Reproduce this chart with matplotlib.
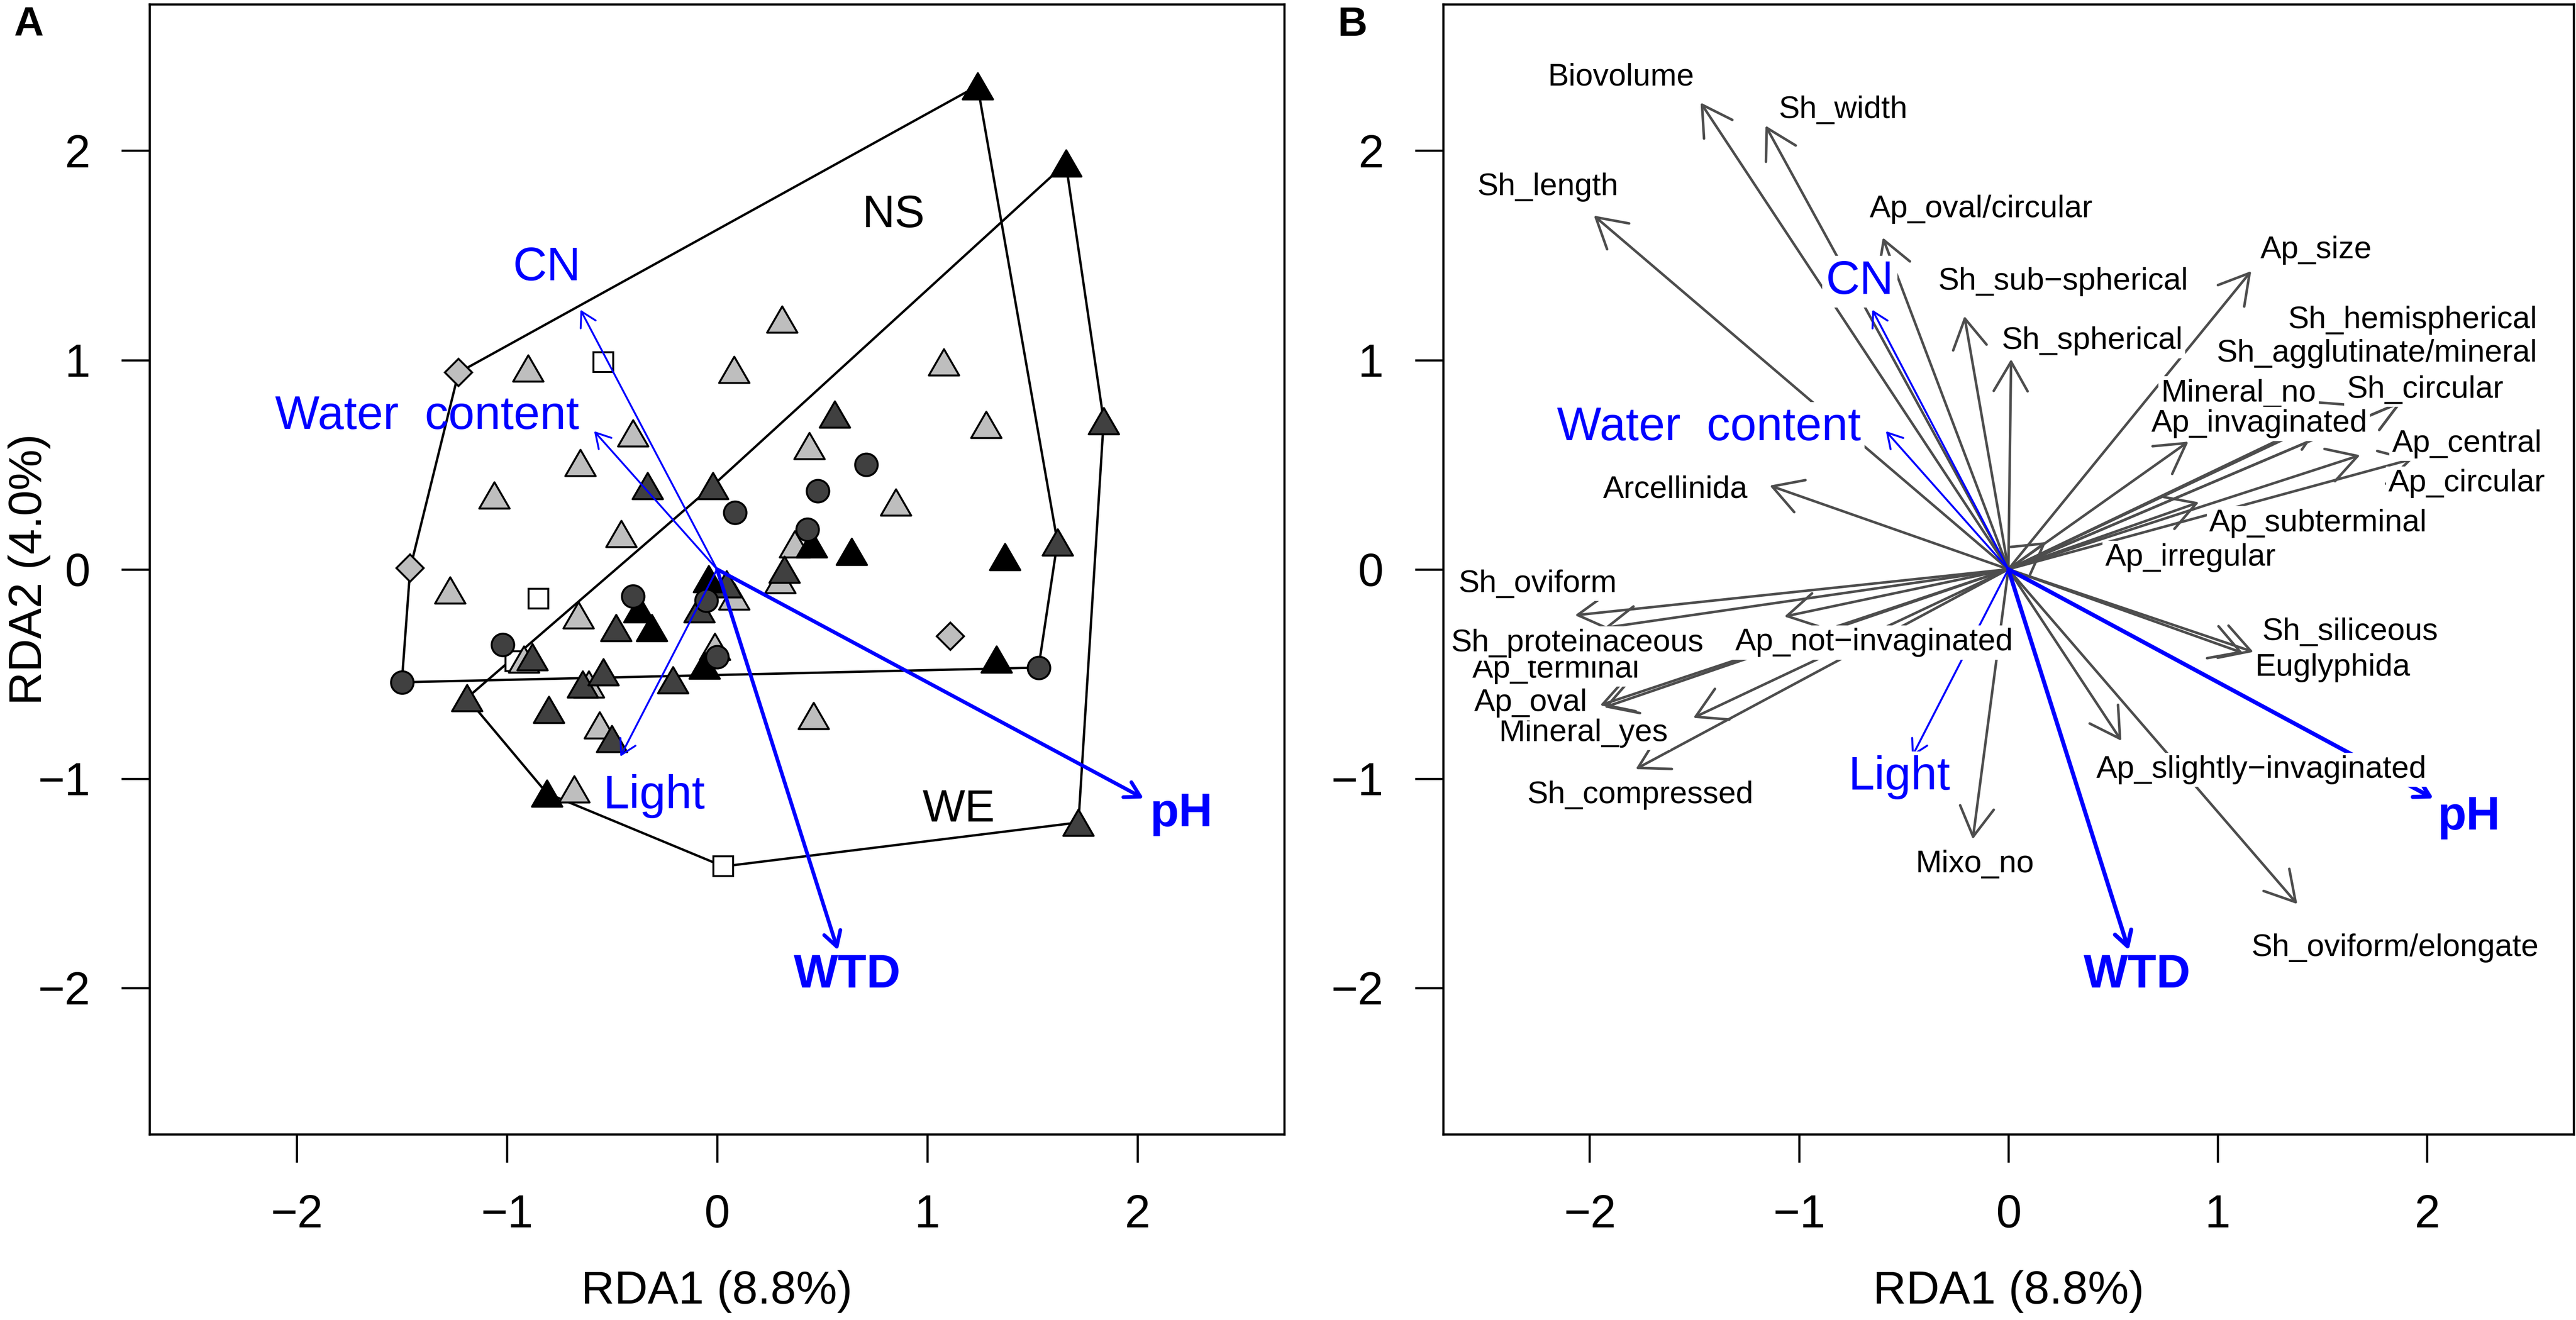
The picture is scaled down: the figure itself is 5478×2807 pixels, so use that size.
import matplotlib
matplotlib.use("Agg")
import matplotlib.pyplot as plt
from matplotlib.patches import ArrowStyle
from matplotlib.path import Path

plt.rcParams['font.family'] = ['Liberation Sans', 'DejaVu Sans']
plt.rcParams['axes.unicode_minus'] = True

# ---- panel A: site scores (RDA1, RDA2), one list pair per symbol group
lt_tri_x = [-0.90, 0.08, 0.31, 1.08, -0.40, 1.28, 0.44, -0.65, 0.85, -1.06, -0.455,
            0.37, 0.30, -1.27, 0.08, -0.66, -0.01, -0.92, -0.61, 0.46, -0.56, -0.68]
lt_tri_y = [0.96, 0.955, 1.195, 0.99, 0.65, 0.69, 0.59, 0.51, 0.32, 0.355, 0.17,
            0.12, -0.05, -0.10, -0.13, -0.22, -0.37, -0.43, -0.55, -0.70, -0.745, -1.05]

dk_tri_x = [0.56, 1.84, -0.33, -0.02, 1.62, 0.32, 0.045, -0.085, -0.48, -0.88, -1.19,
            -0.64, -0.54, -0.21, -0.80, -0.50, 1.72]
dk_tri_y = [0.74, 0.71, 0.40, 0.40, 0.13, 0.0, -0.07, -0.19, -0.28, -0.42, -0.615,
            -0.55, -0.49, -0.53, -0.67, -0.81, -1.21]

bk_tri_x = [1.24, 1.66, 0.45, 0.64, 1.37, -0.04, -0.37, -0.31, -0.06, 1.33, -0.81]
bk_tri_y = [2.31, 1.94, 0.12, 0.085, 0.06, -0.045, -0.19, -0.28, -0.46, -0.43, -1.07]

circ_x = [0.71, 0.48, 0.085, 0.43, -0.40, -0.05, -1.02, 0.0, -1.50, 1.53]
circ_y = [0.50, 0.375, 0.27, 0.19, -0.13, -0.15, -0.36, -0.42, -0.54, -0.47]

sq_x = [-0.54, -0.85, -0.96, 0.03]
sq_y = [0.99, -0.14, -0.44, -1.42]

dia_x = [-1.23, -1.46, 1.11]
dia_y = [0.94, 0.005, -0.32]

# convex hulls of the two groups
hull_ns_x = [-1.23, 1.24, 1.62, 1.53, -1.50, -1.46, -1.23]
hull_ns_y = [0.94, 2.31, 0.13, -0.47, -0.54, 0.005, 0.94]
hull_we_x = [-1.19, -0.02, 1.66, 1.84, 1.72, 0.03, -0.81, -1.19]
hull_we_y = [-0.615, 0.40, 1.94, 0.71, -1.21, -1.42, -1.07, -0.615]
hull_names = ['NS', 'WE']
hull_lab_x = [0.84, 1.15]
hull_lab_y = [1.69, -1.15]

# environmental vectors (same in both panels)
env_names = ['CN', 'Water  content', 'Light', 'pH', 'WTD']
env_x = [-0.65, -0.585, -0.46, 2.03, 0.575]
env_y = [1.24, 0.66, -0.895, -1.095, -1.82]
envA_lab_x = [-0.81, -1.38, -0.30, 2.21, 0.62]
envA_lab_y = [1.44, 0.73, -1.085, -1.17, -1.94]
envB_lab_x = [-0.71, -1.43, -0.52, 2.20, 0.615]
envB_lab_y = [1.375, 0.675, -0.995, -1.185, -1.94]

# ---- panel B: trait vectors
trait_names = ['Biovolume', 'Sh_width', 'Sh_length', 'Ap_oval/circular', 'Sh_sub\u2212spherical',
               'Sh_spherical', 'Ap_size', 'Sh_hemispherical', 'Sh_agglutinate/mineral',
               'Sh_circular', 'Mineral_no', 'Ap_invaginated', 'Ap_central', 'Ap_circular',
               'Ap_subterminal', 'Ap_irregular', 'Sh_siliceous', 'Euglyphida',
               'Ap_slightly\u2212invaginated', 'Sh_oviform/elongate', 'Mixo_no',
               'Sh_compressed', 'Mineral_yes', 'Ap_oval', 'Ap_terminal',
               'Ap_not\u2212invaginated', 'Sh_proteinaceous', 'Sh_oviform', 'Arcellinida']
trait_x = [-1.47, -1.16, -1.98, -0.60, -0.21, 0.013, 1.16, 1.88, 1.65, 1.88, 1.505, 0.86,
           1.68, 1.93, 0.91, 0.18, 1.17, 1.12, 0.54, 1.38, -0.17, -1.78, -1.505, -1.95,
           -1.93, -1.07, -1.93, -2.07, -1.14]
trait_y = [2.23, 2.12, 1.69, 1.585, 1.21, 1.004, 1.425, 0.80, 0.79, 0.80, 0.71, 0.61,
           0.545, 0.527, 0.32, 0.13, -0.395, -0.40, -0.82, -1.60, -1.29, -0.955, -0.71,
           -0.65, -0.66, -0.226, -0.28, -0.22, 0.40]
trait_lab_x = [-1.85, -0.79, -2.20, -0.13, 0.26, 0.40, 1.47, 1.93, 1.76, 1.99, 1.10, 1.20,
               2.19, 2.19, 1.48, 0.87, 1.63, 1.55, 1.21, 1.845, -0.16, -1.76, -2.03, -2.28,
               -2.16, -0.64, -2.06, -2.25, -1.59]
trait_lab_y = [2.35, 2.195, 1.825, 1.72, 1.375, 1.09, 1.525, 1.19, 1.03, 0.857, 0.84, 0.695,
               0.60, 0.41, 0.22, 0.055, -0.30, -0.47, -0.958, -1.81, -1.41, -1.08, -0.782,
               -0.64, -0.48, -0.35, -0.355, -0.07, 0.38]

tick_vals = [-2, -1, 0, 1, 2]

BLUE = '#0000FF'
GREY = '#4D4D4D'
tri = Path([(0, 0.866), (-1, -0.866), (1, -0.866), (0, 0.866)],
           [Path.MOVETO, Path.LINETO, Path.LINETO, Path.CLOSEPOLY])


def arrow(ax, x, y, color, lw, hl, z):
    ax.annotate('', xy=(x, y), xytext=(0, 0),
                arrowprops=dict(arrowstyle=ArrowStyle('->', head_length=hl, head_width=hl * 0.577),
                                mutation_scale=1, lw=lw, color=color,
                                shrinkA=0, shrinkB=0, capstyle='round', joinstyle='round'),
                zorder=z)


def style_axes(ax):
    ax.set_xlim(-2.7, 2.7)
    ax.set_ylim(-2.7, 2.7)
    ax.set_xticks(tick_vals)
    ax.set_yticks(tick_vals)
    ax.tick_params(direction='out', length=14.4, width=1.1, labelsize=23.5, pad=16)
    for s in ax.spines.values():
        s.set_linewidth(1.1)
    ax.text(0.5, -0.139, 'RDA1 (8.8%)', transform=ax.transAxes, ha='center', va='center',
            fontsize=23.5)


fig = plt.figure(figsize=(5478 / 300, 2807 / 300), dpi=300)
axA = fig.add_axes([0.0581, 0.1407, 0.4405, 0.8561])
axB = fig.add_axes([0.5602, 0.1407, 0.4389, 0.8561])

# ---------------- panel A
axA.plot(hull_ns_x, hull_ns_y, color='black', lw=1.2, zorder=2)
axA.plot(hull_we_x, hull_we_y, color='black', lw=1.2, zorder=2)

mk = dict(linestyle='none', markeredgecolor='black', markeredgewidth=1.0, zorder=3)
axA.plot(sq_x, sq_y, marker='s', markersize=10, markerfacecolor='white', **mk)
axA.plot(lt_tri_x, lt_tri_y, marker=tri, markersize=15.5, markerfacecolor='#BEBEBE', **mk)
axA.plot(dk_tri_x, dk_tri_y, marker=tri, markersize=15.5, markerfacecolor='#404040', **mk)
axA.plot(bk_tri_x, bk_tri_y, marker=tri, markersize=15.5, markerfacecolor='black', **mk)
axA.plot(circ_x, circ_y, marker='o', markersize=11.5, markerfacecolor='#404040', **mk)
axA.plot(dia_x, dia_y, marker='D', markersize=10, markerfacecolor='#BEBEBE', **mk)

for i, name in enumerate(env_names):
    thick = name in ('pH', 'WTD')
    arrow(axA, env_x[i], env_y[i], BLUE, 1.9 if thick else 0.95, 7.5, 4)
    axA.text(envA_lab_x[i], envA_lab_y[i], name, color=BLUE, fontsize=24,
             fontweight='bold' if thick else 'normal', ha='center', va='center', zorder=5)

for i, name in enumerate(hull_names):
    axA.text(hull_lab_x[i], hull_lab_y[i], name, fontsize=23, ha='center', va='center', zorder=5)

style_axes(axA)
axA.text(-0.106, 0.5, 'RDA2 (4.0%)', transform=axA.transAxes, rotation=90,
         ha='center', va='center', fontsize=23.5)

# ---------------- panel B
for i in range(len(trait_names)):
    arrow(axB, trait_x[i], trait_y[i], GREY, 1.3, 15, 2)

for i, name in enumerate(env_names):
    thick = name in ('pH', 'WTD')
    arrow(axB, env_x[i], env_y[i], BLUE, 2.1 if thick else 1.0, 7.5, 3)

lab_box = dict(boxstyle='square,pad=0.08', facecolor='white', edgecolor='none')
for i, name in enumerate(trait_names):
    axB.text(trait_lab_x[i], trait_lab_y[i], name, fontsize=16, ha='center', va='center',
             bbox=lab_box, zorder=4)

for i, name in enumerate(env_names):
    thick = name in ('pH', 'WTD')
    axB.text(envB_lab_x[i], envB_lab_y[i], name, color=BLUE, fontsize=24,
             fontweight='bold' if thick else 'normal', ha='center', va='center',
             bbox=lab_box, zorder=5)

style_axes(axB)

fig.text(0.0112, 0.981, 'A', fontsize=21, fontweight='bold', ha='center', va='center')
fig.text(0.525, 0.981, 'B', fontsize=21, fontweight='bold', ha='center', va='center')

fig.savefig('out.png', dpi=300)
